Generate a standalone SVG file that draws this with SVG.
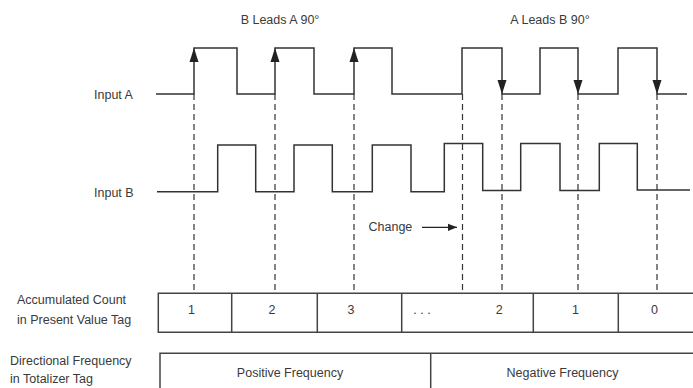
<svg xmlns="http://www.w3.org/2000/svg" width="693" height="388" viewBox="0 0 693 388">
<style>
text{font-family:"Liberation Sans",Arial,sans-serif;font-size:12.5px;fill:#3a3a3a}
.wave{fill:none;stroke:#333;stroke-width:1.5}
.dash{fill:none;stroke:#333;stroke-width:1.2;stroke-dasharray:6,4}
.box{fill:none;stroke:#444;stroke-width:1.5}
.mid{text-anchor:middle}
</style>
<defs>
<marker id="ah" viewBox="0 0 10 10" refX="10" refY="5" markerWidth="9" markerHeight="9" markerUnits="userSpaceOnUse" orient="auto">
<path d="M0,0 L10,5 L0,10 z" fill="#222"/>
</marker>
<marker id="ahc" viewBox="0 0 10 10" refX="10" refY="5" markerWidth="9" markerHeight="9" markerUnits="userSpaceOnUse" orient="auto">
<path d="M0,1 L10,5 L0,9 z" fill="#222"/>
</marker>
</defs>
<g id="headings">
<text class="mid" x="280" y="24">B Leads A 90°</text>
<text class="mid" x="550" y="24">A Leads B 90°</text>
</g>
<g id="inputA">
<text x="94" y="98.5">Input A</text>
<path class="wave" d="M156,94 H194 V48 H237 V94 H275 V48 H314 V94 H354 V48 H392 V94 H462 V48 H502 V94 H540 V48 H578 V94 H618 V48 H657 V94 H687"/>
</g>
<g id="inputB">
<text x="94" y="197">Input B</text>
<path class="wave" d="M157,191.7 H217.7 V145 H255.7 V191.7 H294 V145 H332.3 V191.7 H372.3 V145 H411 V191.7 H444.3 V143.5 H482.7 V190.5 H520.7 V143.5 H560 V190.5 H599.3 V143.5 H637.3 V190 H690"/>
</g>
<g id="connectors">
<path class="dash" d="M194,94 V292 M275,94 V292 M354,94 V292 M462.5,94 V292 M502,94 V292 M578,94 V292 M657,94 V292"/>
<g fill="#222">
<path d="M194,48 L189.5,62 L198.5,62 z"/>
<path d="M275,48 L270.5,62 L279.5,62 z"/>
<path d="M354,48 L349.5,62 L358.5,62 z"/>
<path d="M502,94 L497.5,80 L506.5,80 z"/>
<path d="M578,94 L573.5,80 L582.5,80 z"/>
<path d="M657,94 L652.5,80 L661.5,80 z"/>
</g>
<line x1="422" y1="227.3" x2="457" y2="227.3" stroke="#222" stroke-width="1.3" marker-end="url(#ahc)"/>
</g>
<g id="change">
<text x="368.5" y="231">Change</text>
</g>
<g id="countRow">
<text x="17" y="304">Accumulated Count</text>
<text x="17" y="323.5">in Present Value Tag</text>
<path class="box" d="M693,293.3 H158.3 V332.3 H693 M231.7,293.3 V332.3 M317.3,293.3 V332.3 M401.7,293.3 V332.3 M533.3,293.3 V332.3 M618.3,293.3 V332.3"/>
<text class="mid" x="191.5" y="313.5">1</text>
<text class="mid" x="272" y="313.5">2</text>
<text class="mid" x="351" y="313.5">3</text>
<text class="mid" x="422" y="313.5">. . .</text>
<text class="mid" x="499.3" y="313.5">2</text>
<text class="mid" x="575.5" y="313.5">1</text>
<text class="mid" x="654.5" y="313.5">0</text>
</g>
<g id="freqRow">
<text x="10" y="365">Directional Frequency</text>
<text x="10" y="383">in Totalizer Tag</text>
<path class="box" d="M160,390 V353.3 H693 M430.7,353.3 V390"/>
<text class="mid" x="290" y="376.5">Positive Frequency</text>
<text class="mid" x="562.5" y="376.5">Negative Frequency</text>
</g>
</svg>
